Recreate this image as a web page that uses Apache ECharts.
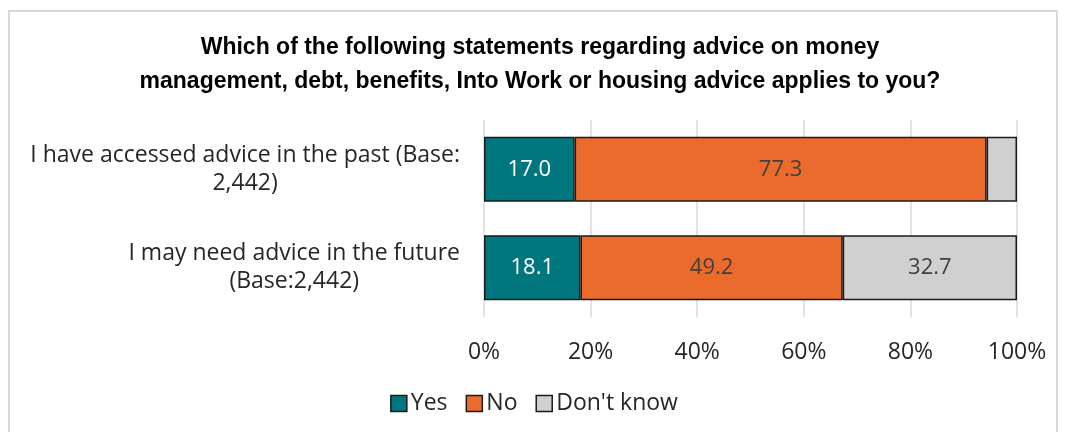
<!DOCTYPE html>
<html>
<head>
<meta charset="utf-8">
<script src="https://cdn.jsdelivr.net/npm/echarts@6/dist/echarts.min.js"></script>
<style>
  html, body { margin: 0; padding: 0; background: #fff; }
  #chart { width: 1068px; height: 432px; }
</style>
</head>
<body>
<div id="chart"></div>
<script>
// Survey statements (top to bottom)
const categories = [
  'I have accessed advice in the past (Base:\n2,442)',
  'I may need advice in the future\n(Base:2,442)'
];
const seriesNames = ['Yes', 'No', "Don't know"];
const yesValues = [17.0, 18.1];
const noValues = [77.3, 49.2];
const dontKnowValues = [5.7, 32.7];
const xTicks = [0, 20, 40, 60, 80, 100];

const colors = ['#00777F', '#EB6B2C', '#D0D0D0'];
const labelColors = ['#ffffff', '#404040', '#404040'];
const values = [yesValues, noValues, dontKnowValues];

const FONT = '"Open Sans", sans-serif';

const chart = echarts.init(document.getElementById('chart'));

const series = seriesNames.map((name, i) => ({
  name,
  type: 'bar',
  stack: 'total',
  barWidth: 65,
  data: values[i].slice().reverse(),
  itemStyle: { color: colors[i], borderColor: '#1a1a1a', borderWidth: 1.5 },
  label: {
    show: true,
    position: 'inside',
    color: labelColors[i],
    fontFamily: FONT,
    fontSize: 22,
    formatter: p => (p.value < 8 ? '' : p.value.toFixed(1))
  }
}));

chart.setOption({
  animation: false,
  graphic: [{
    type: 'rect',
    shape: { x: 9, y: 11, width: 1048, height: 440 },
    style: { fill: 'none', stroke: '#D9D9D9', lineWidth: 2 },
    silent: true
  }],
  title: {
    text: 'Which of the following statements regarding advice on money\nmanagement, debt, benefits, Into Work or housing advice applies to you?',
    left: 535,
    top: 26,
    textAlign: 'center',
    textStyle: {
      fontFamily: '"Liberation Sans Narrow", "Liberation Sans", sans-serif',
      fontWeight: 'bold',
      fontSize: 23,
      lineHeight: 34,
      color: '#000'
    }
  },
  legend: {
    data: seriesNames,
    bottom: 12,
    left: 'center',
    itemWidth: 16,
    itemHeight: 16,
    itemGap: 18,
    icon: 'rect',
    textStyle: { fontFamily: FONT, fontSize: 23, color: '#262626', padding: [0, 0, 0, -1] },
    itemStyle: { borderColor: '#1a1a1a', borderWidth: 1.5 }
  },
  grid: { left: 484, right: 51, top: 120, bottom: 115, containLabel: false },
  xAxis: {
    type: 'value',
    min: 0,
    max: 100,
    interval: 20,
    axisLine: { show: false },
    axisTick: { show: false },
    splitLine: { show: true, lineStyle: { color: '#D9D9D9', width: 1.5 } },
    axisLabel: {
      margin: 24,
      fontFamily: FONT,
      fontSize: 23,
      color: '#262626',
      formatter: v => (xTicks.includes(v) ? v + '%' : '')
    }
  },
  yAxis: {
    type: 'category',
    data: categories.slice().reverse(),
    axisLine: { show: false },
    axisTick: { show: false },
    axisLabel: {
      margin: 24,
      align: 'right',
      formatter: v => v.split('\n').map(s => '{c|' + s + '}').join('\n'),
      rich: {
        c: { align: 'center', fontFamily: FONT, fontSize: 23, lineHeight: 28, color: '#262626' }
      }
    }
  },
  series
});
</script>
</body>
</html>
